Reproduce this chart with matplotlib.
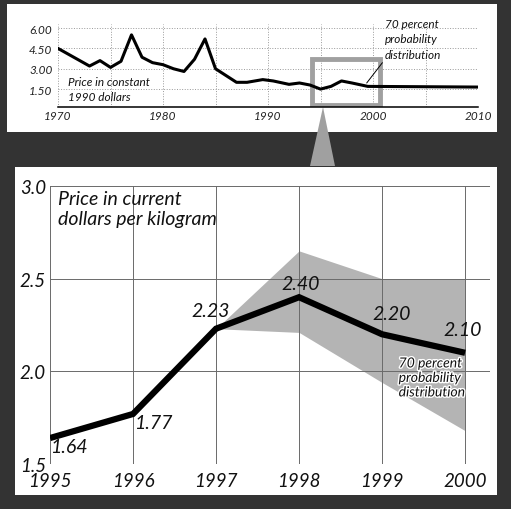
import matplotlib
matplotlib.use("Agg")
import matplotlib.pyplot as plt
import matplotlib.patheffects as pe
from matplotlib.patches import Rectangle, Polygon

# long-run series, constant 1990 dollars
hist_years = [1970, 1973, 1974, 1975, 1976, 1977, 1978, 1979, 1980, 1981,
              1982, 1983, 1984, 1985, 1986, 1987, 1988, 1989.5, 1990.5, 1992,
              1993, 1994, 1995, 1996, 1997, 1998, 1999.5, 2010]
hist_price = [4.5, 3.2, 3.6, 3.1, 3.55, 5.5, 3.85, 3.45, 3.3, 3.0,
              2.8, 3.7, 5.2, 3.0, 2.5, 2.0, 2.0, 2.2, 2.1, 1.85,
              1.95, 1.8, 1.5, 1.7, 2.1, 1.95, 1.7, 1.65]
hist_yticks = [1.5, 3.0, 4.5, 6.0]
hist_ylabels = ["1.50", "3.00", "4.50", "6.00"]
hist_xticks = [1970, 1980, 1990, 2000, 2010]

# close-up, current dollars per kilogram
years = [1995, 1996, 1997, 1998, 1999, 2000]
price = [1.64, 1.77, 2.23, 2.40, 2.20, 2.10]
price_labels = ["1.64", "1.77", "2.23", "2.40", "2.20", "2.10"]
band_years = [1997, 1998, 1999, 2000]
band_low = [2.23, 2.21, 1.94, 1.68]
band_high = [2.23, 2.65, 2.50, 2.50]

W, H = 511, 510
BG = "#333333"
BAND = "#b4b4b4"

plt.rcParams["font.family"] = ["Lato", "DejaVu Sans"]
plt.rcParams["font.style"] = "italic"


def px_rect(x0, y0, x1, y1):
    return [x0 / W, 1 - y1 / H, (x1 - x0) / W, (y1 - y0) / H]


fig = plt.figure(figsize=(W / 100, H / 100), dpi=100, facecolor=BG)

# white panels + the grey pointer between them
for x0, y0, x1, y1 in [(7, 5, 497, 133), (15, 168, 497, 496)]:
    l, b, w, h = px_rect(x0, y0, x1, y1)
    fig.add_artist(Rectangle((l, b), w, h, transform=fig.transFigure,
                             facecolor="white", edgecolor="none", zorder=-2))
fig.add_artist(Polygon([(323 / W, 1 - 108 / H), (310 / W, 1 - 167 / H),
                        (335 / W, 1 - 167 / H)], closed=True,
                       transform=fig.transFigure, facecolor="#a0a0a0",
                       edgecolor="none", zorder=-1))

# ---- top panel
ax1 = fig.add_axes(px_rect(58, 25, 478, 108))
ax1.set_facecolor("none")
ax1.plot(hist_years, hist_price, color="black", lw=2.2, zorder=3)
ax1.set_xlim(1970, 2010)
ax1.set_ylim(0.18, 6.3)
ax1.set_xticks(hist_xticks)
ax1.set_xticklabels([str(y) for y in hist_xticks], fontstyle="italic")
ax1.set_xticks(range(1975, 2010, 10), minor=True)
ax1.set_yticks(hist_yticks)
ax1.set_yticklabels(hist_ylabels, fontstyle="italic")
ax1.tick_params(length=0, which="both", labelsize=8.5, colors="#222222")
ax1.tick_params(axis="x", pad=2.5)
ax1.tick_params(axis="y", pad=4)
ax1.grid(True, which="both", ls=":", lw=0.7, color="#999999")
for s in ["top", "right", "left"]:
    ax1.spines[s].set_visible(False)
ax1.spines["bottom"].set_linewidth(1.1)

# highlight box around the close-up range
ax1.add_patch(Rectangle((years[0] - 0.8, 0.35), years[-1] - years[0] + 1.5, 3.35,
                        facecolor="none", edgecolor="#a0a0a0", lw=3.5, zorder=2))
ax1.text(1971, 2.45, "Price in constant\n1990 dollars", fontsize=8.5,
         va="top", ha="left", linespacing=1.45, color="#111111")
ax1.annotate("70 percent\nprobability\ndistribution", xy=(1999.4, 1.95),
             xytext=(2001.1, 6.75), fontsize=8.5, va="top", ha="left",
             linespacing=1.5, color="#111111", annotation_clip=False,
             arrowprops=dict(arrowstyle="-", color="black", lw=0.7,
                             relpos=(0.0, 0.0), shrinkA=0, shrinkB=0))

# ---- bottom panel
ax2 = fig.add_axes(px_rect(50, 187, 490, 465))
ax2.set_facecolor("none")
ax2.fill_between(band_years, band_low, band_high, color=BAND, lw=0, zorder=1)
ax2.plot(years, price, color="black", lw=4.5, solid_joinstyle="miter",
         solid_capstyle="butt", zorder=3)
ax2.set_xlim(1995, 2000.3)
ax2.set_ylim(1.5, 3.0)
ax2.set_xticks(years)
ax2.set_xticklabels([str(y) for y in years], fontstyle="italic")
ax2.set_yticks([1.5, 2.0, 2.5, 3.0])
ax2.set_yticklabels(["1.5", "2.0", "2.5", "3.0"], fontstyle="italic")
ax2.tick_params(length=0, labelsize=13.5, colors="#111111")
ax2.tick_params(axis="x", pad=6)
ax2.tick_params(axis="y", pad=3)
ax2.grid(True, lw=0.7, color="#6a6a6a", zorder=0)
for s in ax2.spines.values():
    s.set_visible(False)

label_offsets = [(0, -6, "left"), (1, -6, "left"), (-4, 13, "center"),
                 (1, 10, "center"), (7, 15, "center"), (-2, 17, "center")]
for x, y, lab, (dx, dy, ha) in zip(years, price, price_labels, label_offsets):
    ax2.annotate(lab, xy=(x, y), xytext=(dx, dy), textcoords="offset points",
                 ha=ha, va="center", fontsize=14, fontstyle="italic",
                 color="#111111", zorder=4)

ax2.text(1995.1, 2.98, "Price in current\ndollars per kilogram", fontsize=14,
         va="top", ha="left", linespacing=1.2, color="#111111")
ax2.text(1999.2, 2.075, "70 percent\nprobability\ndistribution", fontsize=10,
         va="top", ha="left", linespacing=1.25, color="#111111", zorder=4,
         path_effects=[pe.withStroke(linewidth=2, foreground="white")])

fig.savefig("out.png", dpi=100, facecolor=fig.get_facecolor())
